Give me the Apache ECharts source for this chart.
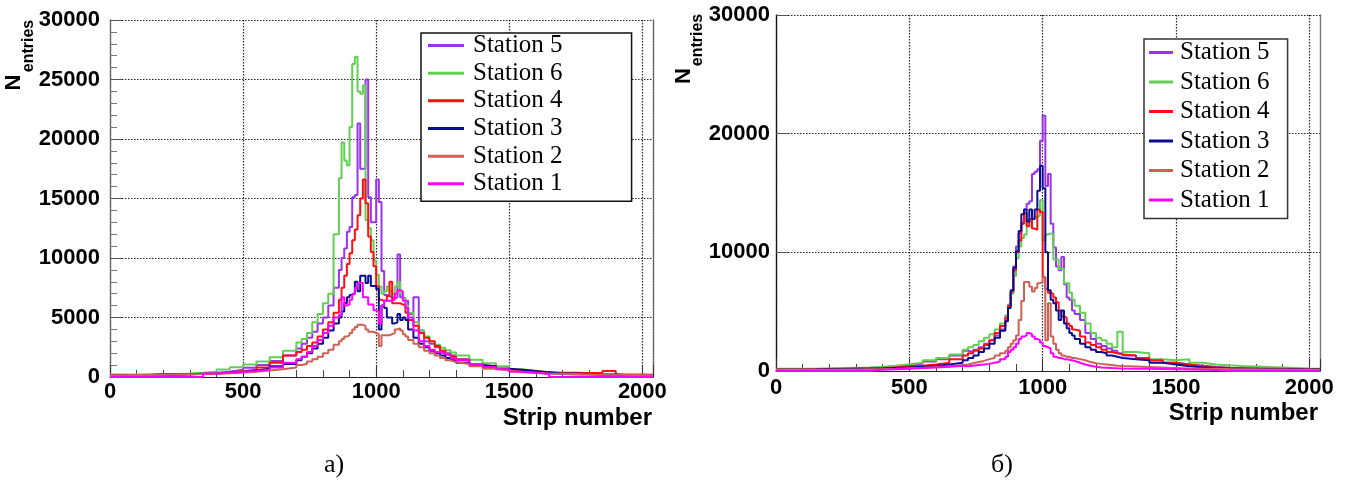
<!DOCTYPE html>
<html><head><meta charset="utf-8">
<script src="https://cdn.jsdelivr.net/npm/echarts@6/dist/echarts.min.js"></script>
<style>html,body{margin:0;padding:0;background:#fff}#c{width:1355px;height:481px}</style>
</head><body><div id="c"></div>
<script>
// Histogram bin edges (strip number)
const binEdges = [0,50,100,150,200,250,300,350,400,450,500,550,600,650,700,
 720,740,760,780,800,820,840,860,
 870,880,890,900,910,920,930,940,950,960,970,980,990,1000,1010,1020,1030,1040,1050,1060,1070,1080,1090,1100,1110,1120,
 1140,1160,1180,1200,1220,1240,1260,1280,1300,
 1350,1400,1450,1500,1550,1600,1650,1700,1750,1800,1850,1900,1950,2000,2040];

const stationNames = ['Station 5','Station 6','Station 4','Station 3','Station 2','Station 1'];
const stationColors = ['#9a33f0','#62cf52','#ff1010','#0c0c92','#cd6155','#ff00ff'];
const xTickValues = [0,500,1000,1500,2000];
const panelCaptions = ['а)','б)'];

// ---- Panel a) ----
const leftSt5 = [150,150,160,180,200,230,280,350,450,600,780,1000,1350,1800,
 2400,2800,3300,3800,4500,5000,6000,7500,
 9000,10000,10800,12200,12600,15100,15300,21300,17500,17500,
 25000,15100,13000,13000,16600,14700,8900,6900,6800,6700,
 6600,6700,10300,6700,6600,6400,
 5300,6700,3900,3000,2800,2500,2200,2000,1800,
 1500,1100,900,700,500,380,300,250,220,200,180,160,150,140,130];
const leftSt6 = [200,200,220,230,260,300,350,450,620,820,1050,1300,1650,2200,
 2900,3200,3700,4600,5300,6200,7000,12000,
 16700,19700,18200,17800,21000,26300,26900,24000,23800,24500,
 13200,12500,11500,9800,8600,7600,7000,7200,7600,7200,
 7000,7600,8000,7000,6600,6000,
 5400,4600,3900,3400,3000,2700,2450,2250,2050,
 1800,1450,1150,900,650,500,380,300,250,220,200,180,160,150,140];
const leftSt4 = [150,160,180,200,220,240,260,300,380,480,600,800,1200,1800,
 2100,2300,2600,2900,3400,4000,4600,5400,
 6500,7500,8500,9500,10400,11500,12400,13600,15000,16600,
 14600,11800,10500,9300,7600,6500,6400,6400,6800,8000,
 6200,6200,6200,6100,6000,5400,
 4800,4300,3700,3300,3000,2600,2200,1900,1700,
 1480,1100,920,700,500,450,400,360,350,340,330,500,220,200,180];
const leftSt3 = [150,160,170,200,220,240,270,300,350,420,550,700,900,1100,
 1400,1700,2000,2400,2800,3300,3900,4500,
 5000,5500,6200,6700,6900,7000,8000,7200,8500,8500,
 7900,8500,7650,7650,7400,4000,6000,5800,5000,5000,
 4500,4600,5300,4800,5000,4800,
 4000,3300,2800,2500,2200,2000,1800,1600,1400,
 1200,1000,900,700,600,500,400,300,300,250,220,200,150,150,100];
const leftSt2 = [150,160,170,190,210,230,250,280,320,380,450,550,650,800,
 1000,1100,1300,1500,1700,2000,2300,2700,
 3000,3200,3400,3500,3700,4000,4200,4400,4400,4300,
 4000,3800,3800,3700,3600,2600,3500,3500,3500,3600,
 3700,4000,4100,3900,3600,3400,
 3100,2800,2500,2200,2000,1800,1600,1400,1250,
 1100,900,700,550,400,350,300,280,250,220,200,180,170,160,150];
const leftSt1 = [0,0,0,0,0,0,0,300,350,420,500,600,800,1200,
 1500,1700,2100,2600,3100,3700,4300,5000,
 5200,6700,6000,6100,6500,7000,7500,7900,7900,6700,
 6700,6100,6100,5600,5500,4500,6000,6400,6400,6400,
 6500,7000,7300,7200,6400,5800,
 5000,3900,3000,2600,2300,2100,1950,1800,1600,
 1400,1100,850,650,450,350,250,0,0,0,0,0,0,0,0];

// ---- Panel б) ----
const rightSt5 = [150,150,160,180,200,220,250,300,380,480,600,800,1000,1300,
 1700,1600,1800,2000,2300,2600,3000,3500,
 4300,5500,6600,8800,10500,11600,12500,13600,14100,14300,
 16600,16800,17000,19400,21500,15600,16600,12400,10400,8800,
 8500,9600,7300,6200,6000,5100,
 4800,4300,3200,2700,2300,2100,1900,1700,1500,
 1300,1100,900,700,550,450,350,280,250,220,200,180,160,150,140];
const rightSt6 = [180,180,200,220,240,260,300,360,450,560,700,900,1100,1400,
 1800,2000,2200,2500,2800,3100,3500,4000,
 4700,5600,6500,8000,9500,10500,11200,11500,12600,12600,
 12800,13000,13100,14400,11000,11500,11600,11500,9400,9400,
 8600,8600,7400,7400,6600,6000,
 5500,4900,4000,3200,2800,2600,2300,2000,3300,
 1600,1500,1000,900,1000,700,550,480,420,380,340,300,260,220,200];
const rightSt4 = [120,130,150,170,190,210,230,260,300,400,450,550,700,1000,
 1300,1500,1700,1900,2200,2600,3200,3800,
 4500,5500,6700,8500,10000,11000,12400,13300,12200,12800,
 12000,11900,13600,13400,7900,6900,6600,6500,6200,5800,
 5100,4600,4500,4000,3800,3500,
 3400,2900,2400,2200,2000,1800,1600,1500,1400,
 1300,1100,900,700,550,400,300,250,220,200,180,200,160,150,120];
const rightSt3 = [100,110,120,140,160,180,200,220,260,300,350,420,550,700,
 900,1100,1300,1600,1900,2300,2800,3400,
 4200,5300,6800,8700,10100,11800,13200,13600,12600,13600,
 12800,13600,15200,17300,15400,10000,6800,6000,5700,5100,
 4300,5100,4000,3600,3200,3000,
 2700,2300,2000,1800,1600,1500,1300,1200,1100,
 1000,900,700,550,400,320,260,220,200,180,160,150,140,130,120];
const rightSt2 = [80,90,100,110,120,130,150,170,200,240,280,330,400,500,
 550,650,750,850,1000,1100,1300,1500,
 1700,2000,2300,2600,3000,4300,5900,7500,7500,7100,
 6700,7000,7400,7500,7900,2600,5700,2900,2300,1800,
 1500,1300,1200,1200,1100,1100,
 1000,900,750,650,600,550,500,450,420,
 380,340,300,260,220,200,180,160,150,140,130,120,110,100,90];
const rightSt1 = [0,0,0,0,0,0,0,100,150,200,250,300,350,450,
 400,450,500,550,600,700,800,1000,
 1200,1600,1800,2000,2300,2700,2900,3000,3200,3100,
 2900,2700,2600,2400,2100,2000,1900,1500,1200,1100,
 1100,1000,1000,950,900,850,
 700,550,450,350,300,280,250,230,220,
 200,180,160,140,120,100,80,0,0,0,0,0,0,0,0];

const leftPanel = [leftSt5,leftSt6,leftSt4,leftSt3,leftSt2,leftSt1];
const rightPanel = [rightSt5,rightSt6,rightSt4,rightSt3,rightSt2,rightSt1];

function stepData(vals){
  const out = vals.map((v,i)=>[binEdges[i], v]);
  out.push([binEdges[binEdges.length-1], vals[vals.length-1]]);
  return out;
}

const sansBold = {fontFamily:'"Liberation Sans", Arial, sans-serif', fontWeight:'bold', fontSize:22, color:'#000'};

function xAxisCfg(gi, margin){
  return {
    gridIndex: gi, type:'value', min:0, max:2040, interval:500,
    axisLine:{show:true, onZero:false, lineStyle:{color:'#222', width:1}},
    axisTick:{show:true, inside:true, length:12, lineStyle:{color:'#333'}},
    minorTick:{show:true, splitNumber:5, length:7, lineStyle:{color:'#444'}},
    splitLine:{show:true, lineStyle:{type:[1.5,1.5], color:'#222', width:1.2}},
    axisLabel:Object.assign({margin:margin, formatter:v=> xTickValues.indexOf(v)>=0 ? String(v) : ''}, sansBold)
  };
}
function yAxisCfg(gi, interval, margin, minor, axisColor){
  return {
    gridIndex: gi, type:'value', min:0, max:30000, interval:interval,
    axisLine:{show:true, lineStyle:{color:axisColor, width:1.3}},
    axisTick:{show:true, inside:true, length:12, lineStyle:{color:'#555'}},
    minorTick:{show:minor, splitNumber:5, length:7, lineStyle:{color:'#777'}},
    splitLine:{show:true, lineStyle:{type:[1.5,1.5], color:'#222', width:1.2}},
    axisLabel:Object.assign({margin:margin, formatter:v=>String(v)}, sansBold)
  };
}
function rightEdgeAxis(gi, color){
  return {gridIndex:gi, type:'value', min:0, max:30000, position:'right',
    axisLine:{show:true, lineStyle:{color:color, width:1.3}},
    axisTick:{show:false}, axisLabel:{show:false}, splitLine:{show:false}};
}

const series = [];
[leftPanel, rightPanel].forEach((panel, p)=>{
  panel.forEach((vals, k)=>{
    series.push({
      name: stationNames[k], type:'line', step:'end',
      xAxisIndex:p, yAxisIndex:p*2, showSymbol:false, symbol:'none',
      lineStyle:{color:stationColors[k], width:2}, itemStyle:{color:stationColors[k]},
      data: stepData(vals), z: 3+k, silent:true
    });
  });
});

function legendCfg(left, top, pad, gap, iw, textPad, bw, bc){
  return {
    orient:'vertical', left:left, top:top, padding:pad, itemGap:gap,
    itemWidth:iw, itemHeight:3, icon:'rect', data:stationNames,
    textStyle:{fontFamily:'"Liberation Serif", "Times New Roman", serif', fontSize:25, color:'#000', lineHeight:24, padding:[0,0,0,textPad]},
    borderColor:bc, borderWidth:bw, backgroundColor:'#fff', z:20
  };
}

function txt(x, y, text, size, weight, family, align, rot){
  return {type:'text', x:x, y:y, rotation:rot||0, z:30,
    style:{text:text, fontSize:size, fontWeight:weight, fontFamily:family, fill:'#000', align:align, verticalAlign:'middle'}};
}
const SANS = '"Liberation Sans", Arial, sans-serif';
const SERIF = '"Liberation Serif", "Times New Roman", serif';

const option = {
  animation:false,
  backgroundColor:'#fff',
  grid:[
    {left:110, top:20, width:543, height:357, containLabel:false},
    {left:776, top:15, width:544, height:356, containLabel:false}
  ],
  xAxis:[xAxisCfg(0,4), xAxisCfg(1,6)],
  yAxis:[yAxisCfg(0,5000,10,true,'#666'), rightEdgeAxis(0,'#666'), yAxisCfg(1,10000,6,false,'#111'), rightEdgeAxis(1,'#777')],
  legend:[
    legendCfg(421, 33, [0,69,5,7], 2.67, 36, 4, 1.5, '#111'),
    legendCfg(1144, 39, [1,18,6,5], 4.5, 24, 2, 1.5, '#333')
  ],
  series: series,
  graphic:[
    txt(14, 82.5, 'N', 22, 'bold', SANS, 'center', Math.PI/2),
    txt(29, 46, 'entries', 16, 'bold', SANS, 'center', Math.PI/2),
    txt(683.5, 76, 'N', 22, 'bold', SANS, 'center', Math.PI/2),
    txt(697.5, 40, 'entries', 16, 'bold', SANS, 'center', Math.PI/2),
    txt(652, 418, 'Strip number', 24, 'bold', SANS, 'right'),
    txt(1318, 413, 'Strip number', 24, 'bold', SANS, 'right'),
    txt(334, 465, panelCaptions[0], 26, 'normal', SERIF, 'center'),
    txt(1002, 465, panelCaptions[1], 26, 'normal', SERIF, 'center')
  ]
};
const chart = echarts.init(document.getElementById('c'), null, {renderer:'canvas'});
chart.setOption(option);
</script></body></html>
